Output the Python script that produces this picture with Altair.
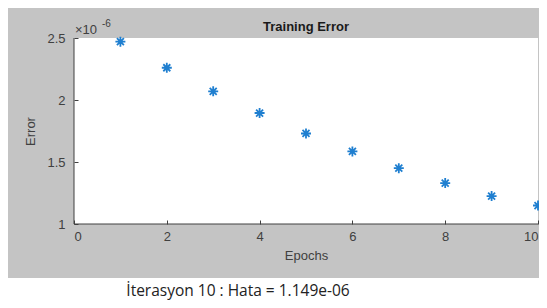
import altair as alt
import pandas as pd

# Data (error values in units of 1e-6)
epochs = [1, 2, 3, 4, 5, 6, 7, 8, 9, 10]
error_e6 = [2.47, 2.26, 2.07, 1.895, 1.73, 1.585, 1.45, 1.33, 1.225, 1.149]
y_ticks = [1, 1.5, 2, 2.5]
x_ticks = [0, 2, 4, 6, 8, 10]
chart_title = "Training Error"
footer_text = "İterasyon 10 : Hata = 1.149e-06"

W, H = 464, 186
FONT = "Liberation Sans"
AXC = "#404040"

df = pd.DataFrame({"Epochs": epochs, "Error": error_e6})
one = pd.DataFrame({"k": [0]})

x_scale = alt.Scale(domain=[0, 10], nice=False, zero=False)
y_scale = alt.Scale(domain=[1, 2.5], nice=False, zero=False)

# Decorative figure background (gray) and white plot area
bg = alt.Chart(one).mark_rect(color="#c4c4c4").encode(
    x=alt.value(-70), x2=alt.value(W + 1), y=alt.value(-33), y2=alt.value(240)
)
plot_bg = alt.Chart(one).mark_rect(color="white").encode(
    x=alt.value(0), x2=alt.value(W), y=alt.value(0), y2=alt.value(H)
)
dom_x = alt.Chart(one).mark_rule(color=AXC, strokeWidth=1).encode(
    x=alt.value(0), x2=alt.value(W), y=alt.value(H)
)
dom_y = alt.Chart(one).mark_rule(color=AXC, strokeWidth=1).encode(
    x=alt.value(0), y=alt.value(0), y2=alt.value(H)
)

asterisk = "M-1,0L1,0M0,-1L0,1M-0.7,-0.7L0.7,0.7M-0.7,0.7L0.7,-0.7"

points = alt.Chart(df).mark_point(
    shape=asterisk, filled=False, size=100, strokeWidth=1.8, color="#1f7fd0", opacity=1
).encode(
    x=alt.X("Epochs:Q", scale=x_scale, axis=alt.Axis(
        values=x_ticks, offset=-4, tickSize=4, domain=False, grid=False,
        labelPadding=6, titlePadding=6, title="Epochs", zindex=1, format="d",
        labelFont=FONT, labelFontSize=13, labelColor=AXC, tickColor=AXC,
        titleFont=FONT, titleFontSize=13, titleFontWeight="normal", titleColor=AXC,
    )),
    y=alt.Y("Error:Q", scale=y_scale, axis=alt.Axis(
        values=y_ticks, offset=-4, tickSize=4, domain=False, grid=False,
        labelPadding=9, titlePadding=9, title="Error", zindex=1, format="~g",
        labelFont=FONT, labelFontSize=13, labelColor=AXC, tickColor=AXC,
        titleFont=FONT, titleFontSize=13, titleFontWeight="normal", titleColor=AXC,
    )),
)

title_mark = alt.Chart(one).mark_text(
    text=chart_title, font=FONT, fontSize=13, fontWeight="bold", color="#1a1a1a",
    align="center", baseline="alphabetic"
).encode(x=alt.value(W / 2), y=alt.value(-7))

exp_base = alt.Chart(one).mark_text(
    text="×10", font=FONT, fontSize=13, color=AXC, align="left", baseline="alphabetic"
).encode(x=alt.value(1), y=alt.value(-4))
exp_pow = alt.Chart(one).mark_text(
    text="-6", font=FONT, fontSize=10, color=AXC, align="left", baseline="alphabetic"
).encode(x=alt.value(28), y=alt.value(-11))

footer = alt.Chart(one).mark_text(
    text=footer_text, font="Open Sans", fontSize=15.5, color="#222222",
    align="center", baseline="middle"
).encode(x=alt.value(164), y=alt.value(253))

chart = alt.layer(bg, plot_bg, dom_x, dom_y, points, title_mark, exp_base, exp_pow, footer).properties(
    width=W, height=H,
    autosize=alt.AutoSizeParams(type="none"),
    padding={"left": 66, "top": 30, "right": 1, "bottom": 76},
).configure_view(stroke=None).configure(background="white")

chart.save("out.html", embed_options={"renderer": "svg", "actions": False})
